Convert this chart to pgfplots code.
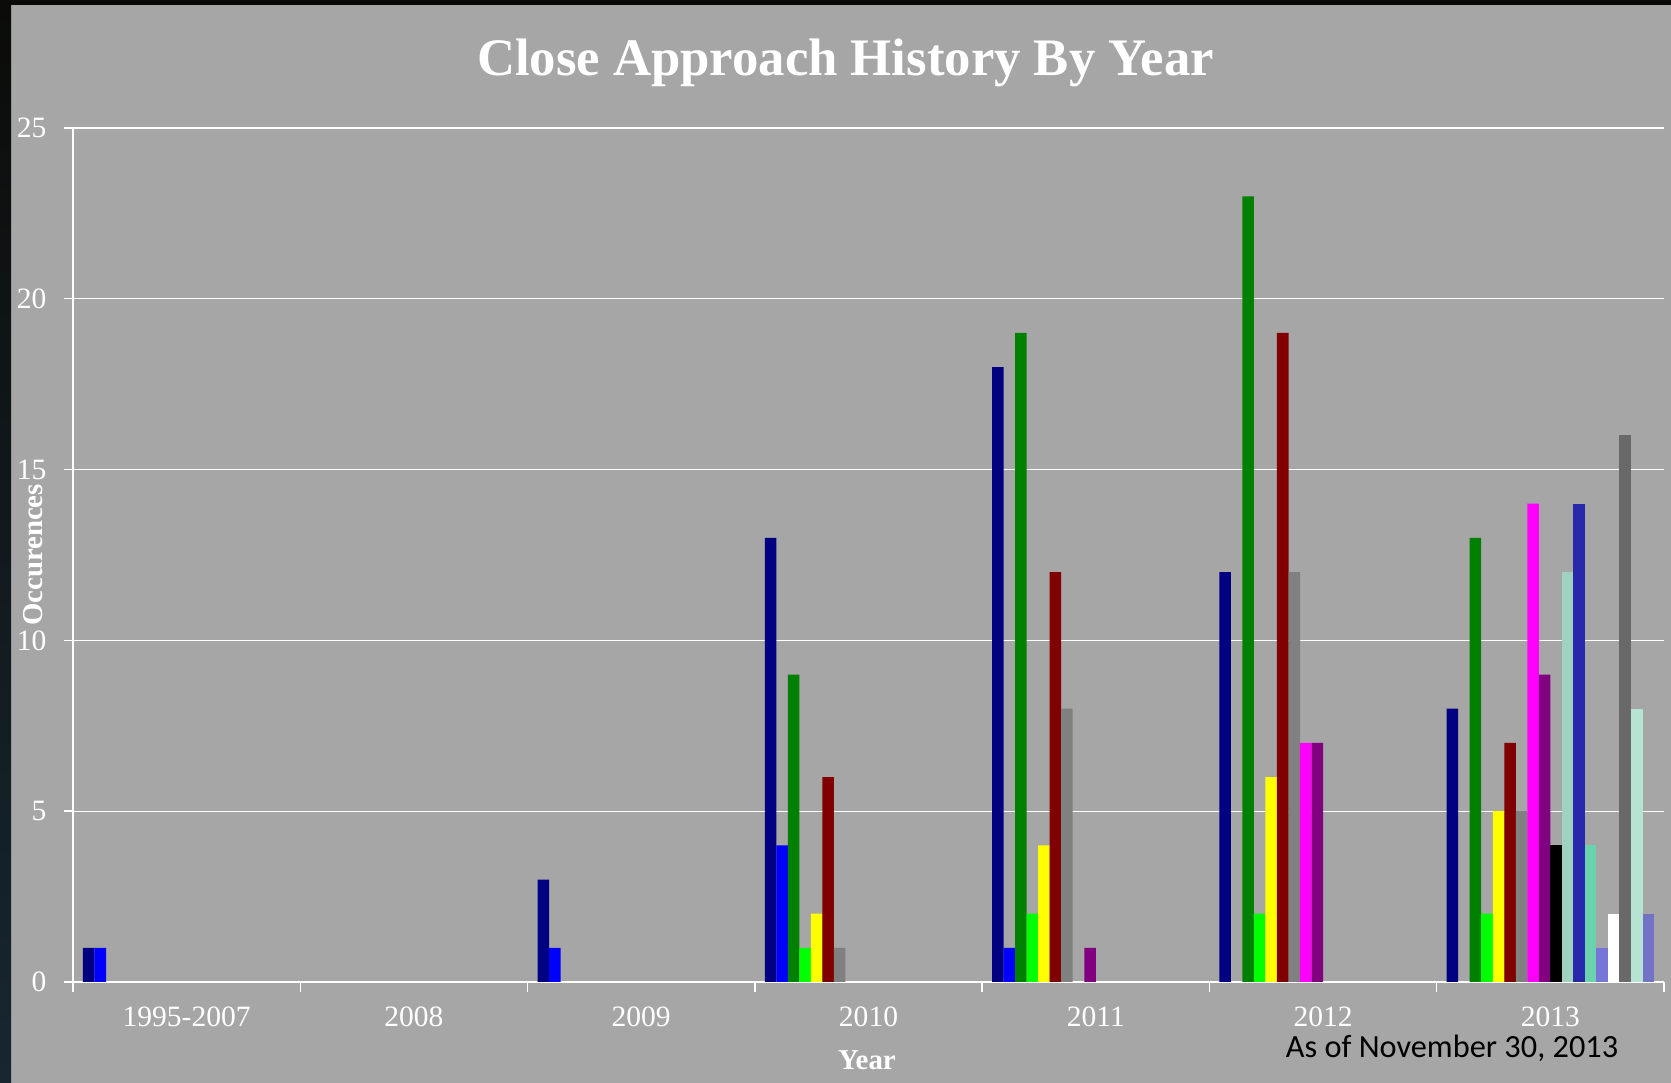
\documentclass[border=0pt]{standalone}
\usepackage{pgfplots}
\pgfplotsset{compat=1.18}
\usepackage{pgfplotstable}
\usepackage{fontspec}
\setmainfont{Liberation Serif}
\newfontfamily\notefont{Carlito}

% panel colours
\definecolor{panel}{HTML}{A6A6A6}
\definecolor{edgetop}{HTML}{0B0C09}
\definecolor{edgelow}{HTML}{172631}

% one colour per series
\definecolor{sA}{HTML}{000080}
\definecolor{sB}{HTML}{0000FF}
\definecolor{sC}{HTML}{008000}
\definecolor{sD}{HTML}{00FF00}
\definecolor{sE}{HTML}{FFFF00}
\definecolor{sF}{HTML}{800000}
\definecolor{sG}{HTML}{808080}
\definecolor{sH}{HTML}{FF00FF}
\definecolor{sI}{HTML}{800080}
\definecolor{sJ}{HTML}{000000}
\definecolor{sK}{HTML}{A1D2C0}
\definecolor{sL}{HTML}{2828AA}
\definecolor{sM}{HTML}{6AD2AC}
\definecolor{sN}{HTML}{7676D9}
\definecolor{sO}{HTML}{FFFFFF}
\definecolor{sP}{HTML}{696969}
\definecolor{sQ}{HTML}{B7E4D2}
\definecolor{sR}{HTML}{7373C6}

% close approach counts, one row per period (0 = 1995-2007 ... 6 = 2013)
\pgfplotstableread{
grp s1 s2 s3 s4 s5 s6 s7 s8 s9 s10 s11 s12 s13 s14 s15 s16 s17 s18
0   1  1  0  0  0  0  0  0  0  0   0   0   0   0   0   0   0   0
1   0  0  0  0  0  0  0  0  0  0   0   0   0   0   0   0   0   0
2   3  1  0  0  0  0  0  0  0  0   0   0   0   0   0   0   0   0
3   13 4  9  1  2  6  1  0  0  0   0   0   0   0   0   0   0   0
4   18 1  19 2  4  12 8  0  1  0   0   0   0   0   0   0   0   0
5   12 0  23 2  6  19 12 7  7  0   0   0   0   0   0   0   0   0
6   8  0  13 2  5  7  5  14 9  4   12  14  4   1   2   16  8   2
}\closeapproach

\begin{document}
\begin{tikzpicture}
\useasboundingbox (0,0) rectangle (167.1mm,108.3mm);
\fill[panel] (0,0) rectangle (167.1mm,108.3mm);
\shade[top color=edgetop, bottom color=edgelow] (0,0) rectangle (1.1mm,108.3mm);
\fill[edgetop] (0,107.8mm) rectangle (167.1mm,108.3mm);

\begin{axis}[
  at={(7.3mm,10.1mm)}, anchor=south west,
  scale only axis, width=159.1mm, height=85.4mm,
  xmin=-0.5, xmax=6.5, ymin=0, ymax=25,
  ybar=0pt, bar width=1.152mm,
  unbounded coords=discard,
  y filter/.expression={y==0 ? nan : y},
  axis x line*=bottom, axis y line*=left,
  axis line style={white, line width=0.5pt},
  tick align=outside,
  tick style={white, line width=0.4pt},
  major tick length=0.9mm, minor tick length=1mm,
  xtick={0,...,6},
  xticklabels={1995-2007,2008,2009,2010,2011,2012,2013},
  major x tick style={draw=none},
  minor xtick={-0.5,0.5,...,6.5},
  ytick={0,5,...,25},
  ymajorgrids, major grid style={white, line width=0.35pt},
  /pgf/number format/assume math mode=true,
  ticklabel style={text=white, font=\fontsize{8.4}{10}\selectfont, inner sep=0pt},
  xticklabel style={anchor=base, yshift=-3.6mm},
  yticklabel style={anchor=east, xshift=-1.7mm},
  title={Close Approach History By Year},
  title style={at={(axis description cs:0.4856,1.0363)}, anchor=base,
    font=\bfseries\fontsize{15}{17}\selectfont, text=white, inner sep=0pt},
  xlabel={Year},
  xlabel style={at={(axis description cs:0.499,-0.103)}, anchor=base,
    font=\bfseries\fontsize{8.2}{10}\selectfont, text=white, inner sep=0pt},
  ylabel={Occurences},
  ylabel style={at={(axis description cs:-0.01886,0.5)}, anchor=base, rotate=0,
    font=\bfseries\fontsize{8.2}{10}\selectfont, text=white, inner sep=0pt},
  cycle list={
    {fill=sA,draw=none},{fill=sB,draw=none},{fill=sC,draw=none},
    {fill=sD,draw=none},{fill=sE,draw=none},{fill=sF,draw=none},
    {fill=sG,draw=none},{fill=sH,draw=none},{fill=sI,draw=none},
    {fill=sJ,draw=none},{fill=sK,draw=none},{fill=sL,draw=none},
    {fill=sM,draw=none},{fill=sN,draw=none},{fill=sO,draw=none},
    {fill=sP,draw=none},{fill=sQ,draw=none},{fill=sR,draw=none}},
]
\pgfplotsinvokeforeach{1,...,18}{
  \addplot table[x=grp, y=s#1] {\closeapproach};
}
\end{axis}

\node[anchor=base, inner sep=0pt, text=black,
  font=\notefont\fontsize{9.2}{11}\selectfont] at (145.2mm,2.5mm)
  {As of November 30, 2013};
\end{tikzpicture}
\end{document}
